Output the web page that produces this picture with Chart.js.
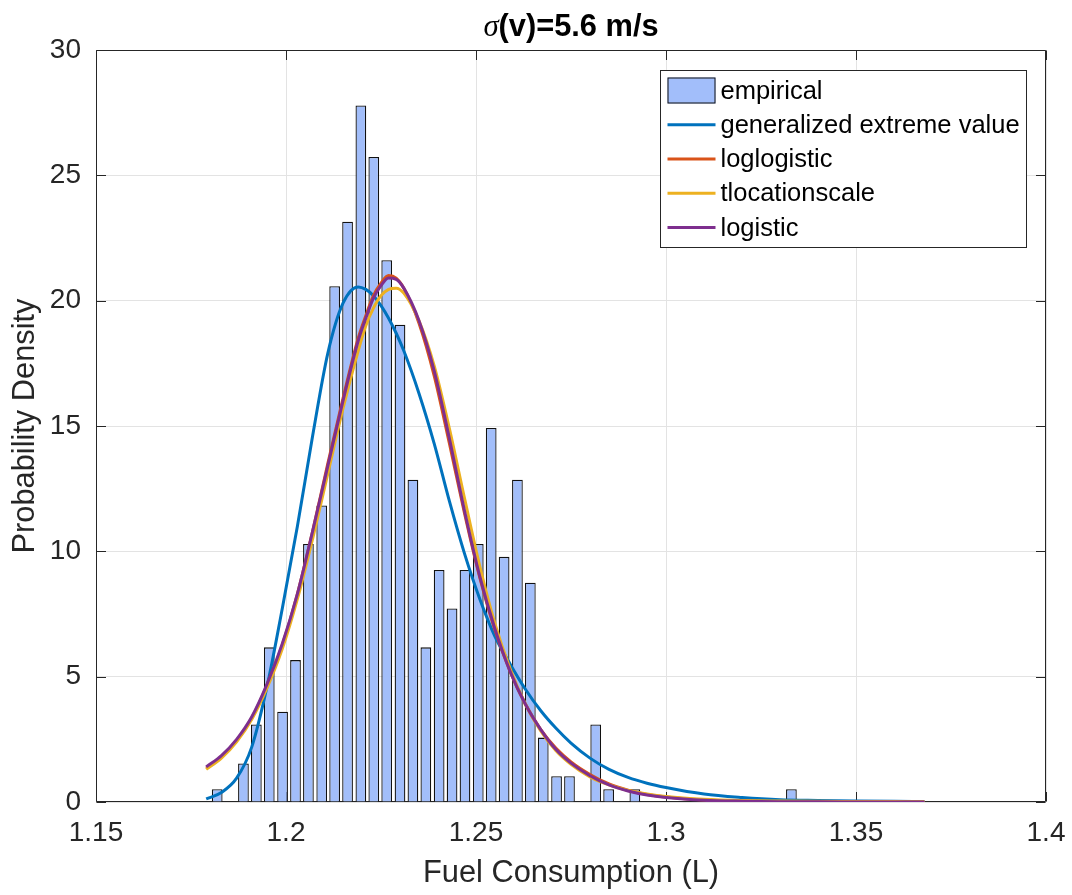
<!DOCTYPE html>
<html>
<head>
<meta charset="utf-8">
<script src="https://cdn.jsdelivr.net/npm/chart.js@4.4.1/dist/chart.umd.min.js"></script>
<style>
  html, body { margin: 0; padding: 0; background: #fff; }
</style>
</head>
<body>
<canvas id="fuel-chart" width="1072" height="895"></canvas>
<script>
// histogram bins (centres) and empirical density
const binCenters = [1.1819, 1.1853, 1.1888, 1.1922, 1.1956, 1.1991, 1.2025, 1.2059, 1.2094, 1.2128,
    1.2162, 1.2197, 1.2231, 1.2265, 1.2300, 1.2334, 1.2368, 1.2403, 1.2437, 1.2471,
    1.2506, 1.2540, 1.2574, 1.2609, 1.2643, 1.2677, 1.2712, 1.2746, 1.2781, 1.2815,
    1.2849, 1.2884, 1.2918, 1.2952, 1.2987, 1.3021, 1.3055, 1.3090, 1.3124, 1.3158,
    1.3193, 1.3227, 1.3261, 1.3296, 1.3330];
const empirical = [0.51, 0, 1.54, 3.09, 6.17, 3.6, 5.66, 10.29, 11.83, 20.58,
    23.15, 27.79, 25.73, 21.61, 19.04, 12.86, 6.17, 9.26, 7.72, 9.26,
    10.29, 14.92, 9.78, 12.86, 8.75, 2.57, 1.03, 1.03, 0, 3.09,
    0.51, 0, 0.51, 0, 0, 0, 0, 0, 0, 0,
    0, 0, 0, 0, 0.51];

// fitted pdf curves
const curveX = [1.179, 1.183, 1.187, 1.191, 1.195, 1.199, 1.203, 1.207, 1.211, 1.215,
    1.219, 1.221, 1.223, 1.225, 1.227, 1.229, 1.231, 1.235, 1.239, 1.243,
    1.247, 1.251, 1.255, 1.259, 1.263, 1.267, 1.271, 1.275, 1.28, 1.285,
    1.29, 1.295, 1.3, 1.31, 1.32, 1.33, 1.34, 1.35, 1.36, 1.368];
const gevVals = [0.12, 0.38, 0.95, 2.2, 4.6, 7.7, 11.0, 14.6, 17.9, 19.9,
    20.55, 20.45, 20.2, 19.8, 19.3, 18.7, 18.0, 16.3, 14.3, 12.0,
    9.9, 8.1, 6.6, 5.5, 4.5, 3.65, 2.95, 2.35, 1.75, 1.3,
    0.98, 0.75, 0.58, 0.32, 0.18, 0.09, 0.06, 0.04, 0.025, 0.02];
const loglogisticVals = [1.35, 1.8, 2.45, 3.35, 4.65, 6.25, 8.3, 10.8, 13.5, 16.1,
    18.5, 19.4, 20.2, 20.7, 21.0, 20.9, 20.5, 19.1, 17.0, 14.3,
    11.5, 8.95, 6.85, 5.2, 3.9, 2.9, 2.15, 1.6, 1.1, 0.72,
    0.47, 0.3, 0.2, 0.08, 0.035, 0.015, 0.007, 0.003, 0.001, 0.0];
const tlocVals = [1.3, 1.75, 2.4, 3.3, 4.55, 6.1, 8.1, 10.5, 13.1, 15.7,
    18.0, 19.0, 19.7, 20.2, 20.45, 20.5, 20.3, 19.2, 17.4, 14.9,
    12.1, 9.4, 7.1, 5.3, 3.9, 2.85, 2.05, 1.5, 1.0, 0.68,
    0.46, 0.32, 0.22, 0.11, 0.06, 0.04, 0.025, 0.02, 0.015, 0.01];
const logisticVals = [1.4, 1.85, 2.5, 3.4, 4.7, 6.3, 8.3, 10.8, 13.4, 16.0,
    18.4, 19.3, 20.1, 20.6, 20.9, 20.85, 20.5, 19.2, 17.2, 14.5,
    11.6, 9.0, 6.9, 5.2, 3.9, 2.9, 2.1, 1.55, 1.05, 0.68,
    0.44, 0.28, 0.18, 0.07, 0.03, 0.012, 0.005, 0.002, 0.001, 0.0005];

const xTicks = [1.15, 1.2, 1.25, 1.3, 1.35, 1.4];
const xTickLabels = ['1.15', '1.2', '1.25', '1.3', '1.35', '1.4'];
const yTicks = [0, 5, 10, 15, 20, 25, 30];

const toPoints = (xs, ys) => xs.map((v, i) => ({ x: v, y: ys[i] }));

const axisColor = '#262626';
const barFill = '#a2befa';

// axes box with inward tick marks (drawn under the data)
const frame = {
    id: 'frame',
    beforeDatasetsDraw(chart) {
        const { ctx, chartArea: a, scales: { x, y } } = chart;
        const L = Math.round(a.left) + 0.5, R = Math.round(a.right) - 0.5;
        const T = Math.round(a.top) + 0.5, B = Math.round(a.bottom) - 0.5;
        ctx.save();
        ctx.strokeStyle = axisColor;
        ctx.lineWidth = 1;
        ctx.beginPath();
        xTicks.forEach(v => {
            const px = Math.round(x.getPixelForValue(v)) + 0.5;
            ctx.moveTo(px, B); ctx.lineTo(px, B - 9.5);
            ctx.moveTo(px, T); ctx.lineTo(px, T + 9.5);
        });
        yTicks.forEach(v => {
            const py = Math.round(y.getPixelForValue(v)) + 0.5;
            ctx.moveTo(L, py); ctx.lineTo(L + 9.5, py);
            ctx.moveTo(R, py); ctx.lineTo(R - 9.5, py);
        });
        ctx.rect(L, T, R - L, B - T);
        ctx.stroke();
        ctx.restore();
    }
};

// title with italic sigma, and the boxed legend inside the axes
const decor = {
    id: 'decor',
    afterDraw(chart) {
        const { ctx, chartArea: a } = chart;
        ctx.save();

        // title
        const sigFont = 'italic 30.8px "Liberation Serif"';
        const restFont = 'bold 30.8px "Liberation Sans"';
        const rest = '(v)=5.6 m/s';
        ctx.font = sigFont;
        const w1 = ctx.measureText('σ').width;
        ctx.font = restFont;
        const w2 = ctx.measureText(rest).width;
        let tx = (a.left + a.right) / 2 - (w1 + w2) / 2;
        ctx.fillStyle = '#000';
        ctx.textBaseline = 'alphabetic';
        ctx.textAlign = 'left';
        ctx.font = sigFont;
        ctx.fillText('σ', tx, 36);
        ctx.font = restFont;
        ctx.fillText(rest, tx + w1, 36);

        // legend
        const sets = chart.data.datasets;
        ctx.font = '25.5px "Liberation Sans"';
        let maxW = 0;
        sets.forEach(d => { maxW = Math.max(maxW, ctx.measureText(d.label).width); });
        const rowH = 34.25;
        const boxW = Math.round(7 + 48 + 5 + maxW + 7);
        const boxH = 177;
        const bx = Math.round(a.right - 20 - boxW) + 0.5;
        const by = Math.round(a.top + 20) + 0.5;
        ctx.fillStyle = '#fff';
        ctx.fillRect(bx, by, boxW, boxH);
        ctx.strokeStyle = axisColor;
        ctx.lineWidth = 1;
        ctx.strokeRect(bx, by, boxW, boxH);
        sets.forEach((d, i) => {
            const cy = by + 20 + i * rowH;
            const sx = bx + 7;
            if (d.type === 'bar' || !d.type) {
                ctx.fillStyle = d.backgroundColor;
                ctx.fillRect(sx, cy - 13, 48, 26);
                ctx.strokeStyle = '#111';
                ctx.strokeRect(sx + 0.5, cy - 13 + 0.5, 47, 25);
            } else {
                ctx.strokeStyle = d.borderColor;
                ctx.lineWidth = 3;
                ctx.beginPath();
                ctx.moveTo(sx, cy);
                ctx.lineTo(sx + 48, cy);
                ctx.stroke();
                ctx.lineWidth = 1;
            }
            ctx.fillStyle = '#000';
            ctx.textBaseline = 'middle';
            ctx.fillText(d.label, sx + 53, cy + 1);
        });
        ctx.restore();
    }
};

const lineSet = (label, vals, color, order) => ({
    type: 'line',
    label: label,
    data: toPoints(curveX, vals),
    borderColor: color,
    backgroundColor: color,
    borderWidth: 3,
    pointRadius: 0,
    cubicInterpolationMode: 'monotone',
    fill: false,
    order: order
});

const ctx = document.getElementById('fuel-chart').getContext('2d');
new Chart(ctx, {
    type: 'bar',
    data: {
        datasets: [
            {
                type: 'bar',
                label: 'empirical',
                data: toPoints(binCenters, empirical),
                backgroundColor: barFill,
                borderColor: '#111',
                borderWidth: 1.3,
                barPercentage: 0.83,
                categoryPercentage: 1,
                order: 5
            },
            lineSet('generalized extreme value', gevVals, '#0072BD', 4),
            lineSet('loglogistic', loglogisticVals, '#D95319', 3),
            lineSet('tlocationscale', tlocVals, '#EDB120', 2),
            lineSet('logistic', logisticVals, '#7E2F8E', 1)
        ]
    },
    options: {
        responsive: false,
        animation: false,
        devicePixelRatio: 1,
        layout: { padding: { top: 50, right: 26, bottom: 0, left: 0 } },
        plugins: {
            legend: { display: false },
            title: { display: false },
            tooltip: { enabled: false }
        },
        scales: {
            x: {
                type: 'linear',
                min: 1.15,
                max: 1.4,
                offset: false,
                afterBuildTicks: s => { s.ticks = xTicks.map(v => ({ value: v })); },
                afterFit: s => { s.height = 93; s.paddingLeft = 0; s.paddingRight = 0; },
                grid: { color: '#e3e3e3', drawTicks: false, offset: false },
                border: { display: false },
                ticks: {
                    color: axisColor,
                    font: { family: 'Liberation Sans', size: 28, lineHeight: 1.2 },
                    padding: 14,
                    maxRotation: 0,
                    callback: (v, i) => xTickLabels[i]
                },
                title: {
                    display: true,
                    text: 'Fuel Consumption (L)',
                    color: axisColor,
                    font: { family: 'Liberation Sans', size: 30.8, lineHeight: 1.2 },
                    padding: { top: 0, bottom: 3 }
                }
            },
            y: {
                min: 0,
                max: 30,
                afterBuildTicks: s => { s.ticks = yTicks.map(v => ({ value: v })); },
                afterFit: s => { s.width = 96; },
                grid: { color: '#e3e3e3', drawTicks: false },
                border: { display: false },
                ticks: {
                    color: axisColor,
                    font: { family: 'Liberation Sans', size: 28, lineHeight: 1.2 },
                    padding: 15
                },
                title: {
                    display: true,
                    text: 'Probability Density',
                    color: axisColor,
                    font: { family: 'Liberation Sans', size: 30.8, lineHeight: 1.2 },
                    padding: { top: 7, bottom: 0 }
                }
            }
        }
    },
    plugins: [frame, decor]
});
</script>
</body>
</html>
